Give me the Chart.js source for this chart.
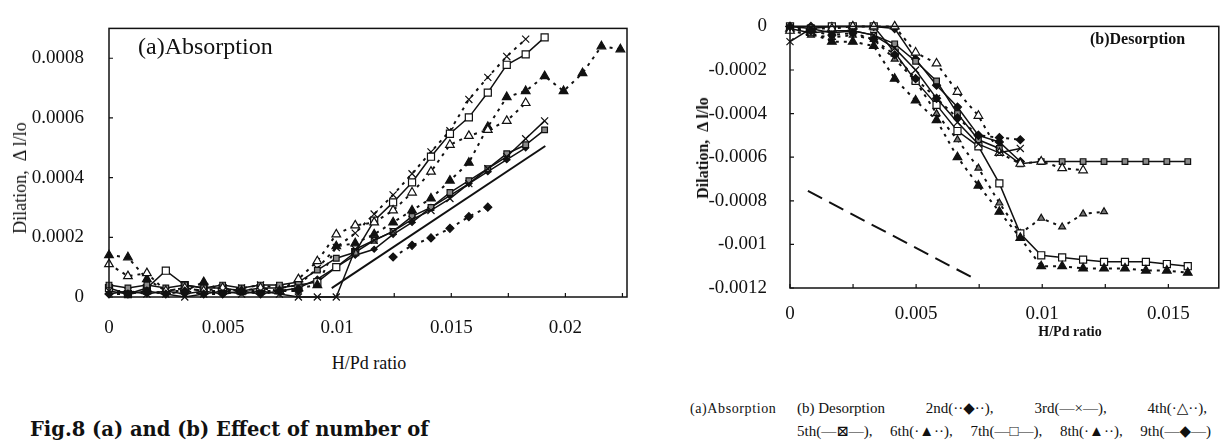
<!DOCTYPE html>
<html>
<head>
<meta charset="utf-8">
<script src="https://cdn.jsdelivr.net/npm/chart.js@4.4.1/dist/chart.umd.min.js"></script>
<style>
  body { margin: 0; background: #fff; }
  #page { position: relative; width: 1225px; height: 443px; overflow: hidden; font-family: "Liberation Serif", "DejaVu Serif", serif; color: #111; }
  canvas { position: absolute; }
  .t { position: absolute; white-space: pre; line-height: 1; }
  .rot { transform: translate(-50%, -50%) rotate(-90deg); }
  .row { position: absolute; display: flex; justify-content: space-between; font-size: 15px; white-space: pre; line-height: 1; }
</style>
</head>
<body>
<div id="page">
  <canvas id="absChart" width="640" height="345" style="left:0;top:0"></canvas>
  <canvas id="desChart" width="565" height="330" style="left:660px;top:0"></canvas>

  <div class="t rot" style="left:20px;top:178px;font-size:18px">Dilation,  Δ l/lo</div>
  <div class="t" style="left:369px;top:363px;font-size:18px;transform:translate(-50%,-50%)">H/Pd ratio</div>
  <div class="t" style="left:138px;top:34px;font-size:24px">(a)Absorption</div>

  <div class="t rot" style="left:703px;top:148px;font-size:16px;font-weight:bold">Dilation,  Δ l/lo</div>
  <div class="t" style="left:1070px;top:332px;font-size:14px;font-weight:bold;transform:translate(-50%,-50%)">H/Pd ratio</div>
  <div class="t" style="left:1090px;top:31px;font-size:16px;font-weight:bold">(b)Desorption</div>

  <div class="t" style="left:690px;top:402px;font-size:14px;letter-spacing:0.6px">(a)Absorption</div>
  <div class="row" style="left:797px;top:401px;width:410px">
    <span>(b) Desorption</span><span>2nd(··◆··),</span><span>3rd(—×—),</span><span>4th(·△··),</span>
  </div>
  <div class="row" style="left:797px;top:424px;width:414px">
    <span>5th(—⊠—),</span><span>6th(·▲··),</span><span>7th(—□—),</span><span>8th(·▲··),</span><span>9th(—◆—)</span>
  </div>
  <div class="t" style="left:30px;top:420px;font-size:19.5px;font-weight:bold;font-family:'DejaVu Serif',serif">Fig.8 (a) and (b) Effect of number of</div>
</div>

<script>
// H/Pd ratio steps used by both runs
const ratioSteps = [0, 0.00083, 0.00166, 0.00249, 0.00332, 0.00415, 0.00498, 0.00581, 0.00664, 0.00747,
  0.0083, 0.00913, 0.00996, 0.01079, 0.01162, 0.01245, 0.01328, 0.01411, 0.01494, 0.01577,
  0.0166, 0.01743, 0.01826, 0.01909, 0.01992, 0.02075, 0.02158, 0.02241];

// (a) absorption dilation
const abs2nd = [0.00001, 0.00001, 0.00002, 0.00001, 0.00002, 0.00001, 0.00001, 0.00002, 0.00001, 0.00002, 0.00002,
  null, null, null, null, 0.000134, 0.000173, 0.000198, 0.00023, 0.000269, 0.000301];
const abs3rd = [0.00002, 0.00001, 0.00002, 0.00001, 0, 0.00001, 0.00002, 0.00001, 0.00002, 0.00001, 0, 0, 0,
  0.00016, 0.00019, 0.00022, 0.00026, 0.00029, 0.00033, 0.00038, 0.00043, 0.00047, 0.00053, 0.00059];
const abs4th = [0.00011, 0.00007, 0.00008, 0.00002, 0.00003, 0.00002, 0.00003, 0.00002, 0.00003, 0.00002, 0.00006,
  0.00012, 0.00021, 0.00024, 0.00025, 0.00029, 0.00035, 0.00042, 0.00051, 0.00054, 0.00056, 0.00059, 0.00065];
const abs5th = [0.00004, 0.00003, 0.00004, 0.00003, 0.00004, 0.00003, 0.00004, 0.00003, 0.00004, 0.00004, 0.00005,
  0.00009, 0.00013, 0.00015, 0.00019, 0.00022, 0.00027, 0.0003, 0.00035, 0.00039, 0.00043, 0.00048, 0.00051, 0.00056];
const abs6th = [0.00014, 0.000133, 0.00006, 0.00002, 0.00002, 0.00005, 0.00002, 0.00002, 0.00002, 0.00002, 0.00003,
  0.00004, 0.00017, 0.00018, 0.00021, 0.00025, 0.00029, 0.00033, 0.00039, 0.00045, 0.00057, 0.00067, 0.00069,
  0.00074, 0.00069, 0.00075, 0.00084, 0.00083];
const abs7th = [0.00003, 0.00001, 0.00003, 0.000088, 0.00004, 0.00003, 0.00003, 0.00002, 0.00003, 0.00003, 0.00004,
  0.00005, 0.0001, 0.00015, 0.000256, 0.000317, 0.000384, 0.00047, 0.000547, 0.000602, 0.000685, 0.000778,
  0.000813, 0.00087];
const abs8th = [0.00002, 0.00002, 0.00001, 0.00002, 0.00003, 0.00002, 0.00002, 0.00003, 0.00004, 0.00003, 0.00004,
  0.000096, 0.000166, 0.000214, 0.000278, 0.000342, 0.000413, 0.000486, 0.000557, 0.000662, 0.000736, 0.000806,
  0.000864];
const abs9th = [0.00001, 0.00002, 0.00001, 0.00002, 0.00001, 0.00002, 0.00001, 0.00002, 0.00001, 0.00002, 0.00003,
  0.00006, 0.0001, 0.00014, 0.00016, 0.00021, 0.00025, 0.0003, 0.00034, 0.00038, 0.00042, 0.00046, 0.0005];
const absLineX = [0.00976, 0.01912];
const absLineY = [0.00003, 0.000506];

// (b) desorption dilation
const des2nd = [0, -0.00002, -0.00004, -0.00003, -0.00006, -0.00013, -0.00024, -0.00033, -0.00042, -0.0005, -0.00051, -0.00052];
const des3rd = [-0.00007, -0.00001, -0.00003, -0.00002, -0.00004, -0.0001, -0.0002, -0.00033, -0.00044, -0.00054, -0.00058, -0.00056];
const des4th = [-0.00002, -0.00001, -0.00001, 0, 0, 0, -0.00012, -0.00017, -0.0003, -0.00041, -0.00058, -0.00063,
  -0.00062, -0.00065, -0.00066];
const des5th = [-0.00001, -0.00003, -0.00002, -0.00002, -0.00004, -0.00008, -0.00016, -0.00025, -0.0004, -0.00052,
  -0.00056, -0.00063, -0.00062, -0.00062, -0.00062, -0.00062, -0.00062, -0.00062, -0.00062, -0.00062];
const des6th = [-0.00001, -0.00003, -0.00007, -0.00007, -0.00009, -0.00024, -0.00034, -0.00043, -0.0006, -0.00073,
  -0.00085, -0.00097, -0.0011, -0.0011, -0.00111, -0.00111, -0.00111, -0.00112, -0.00112, -0.00113];
const des7th = [0, -0.00001, 0, 0, 0, -0.00012, -0.00025, -0.00036, -0.00048, -0.00055, -0.00072, -0.00095,
  -0.00105, -0.00106, -0.00107, -0.00108, -0.00108, -0.00108, -0.00109, -0.0011];
const des8th = [-0.00002, -0.00004, -0.00005, -0.00004, -0.00006, -0.00015, -0.00025, -0.0004, -0.00052, -0.00065,
  -0.00081, -0.00095, -0.00088, -0.00092, -0.00086, -0.00085];
const des9th = [0, 0, 0, 0, 0, -0.00001, -0.00015, -0.00027, -0.00037, -0.0005, -0.00053, -0.00062];
const desLineX = [0.00071, 0.00736];
const desLineY = [-0.000755, -0.00116];

const ink = "#111";
const dotted = [3, 5];

function pts(xs, ys) {
  return ys.map((y, i) => ({ x: xs[i], y: y }));
}

function series(ys, marker, fill, dash, size) {
  return {
    data: pts(ratioSteps, ys),
    borderColor: ink,
    borderWidth: dash ? 2 : 1.5,
    borderDash: dash || [],
    pointStyle: marker,
    pointRadius: size || 4,
    pointBackgroundColor: fill,
    pointBorderColor: ink,
    pointBorderWidth: 1.2,
    clip: 8
  };
}

function refLine(xs, ys, dash) {
  return {
    data: pts(xs, ys),
    borderColor: ink,
    borderWidth: 2,
    borderDash: dash || [],
    pointRadius: 0,
    clip: 8
  };
}

// box round the plot and tick marks pointing inward
const frame = {
  id: "frame",
  afterDraw(chart) {
    const { ctx, chartArea: a, scales } = chart;
    ctx.save();
    ctx.strokeStyle = ink;
    ctx.lineWidth = 1.5;
    ctx.strokeRect(a.left, a.top, a.right - a.left, a.bottom - a.top);
    ctx.lineWidth = 1.2;
    ctx.beginPath();
    scales.x.ticks.forEach((t) => {
      const px = scales.x.getPixelForValue(t.value);
      ctx.moveTo(px, a.bottom);
      ctx.lineTo(px, a.bottom - 4);
    });
    scales.y.ticks.forEach((t) => {
      const py = scales.y.getPixelForValue(t.value);
      ctx.moveTo(a.left, py);
      ctx.lineTo(a.left + 4, py);
    });
    ctx.stroke();
    ctx.restore();
  }
};

function label(v) {
  return String(Number(v.toFixed(4)));
}

function makeChart(id, datasets, o) {
  return new Chart(document.getElementById(id), {
    type: "line",
    data: { datasets: datasets },
    plugins: [frame],
    options: {
      responsive: false,
      animation: false,
      layout: { padding: { left: 0, top: o.top, right: o.right, bottom: 0 } },
      plugins: { legend: { display: false }, tooltip: { enabled: false } },
      scales: {
        x: {
          type: "linear",
          min: o.xMin, max: o.xMax,
          grid: { display: false },
          border: { display: false },
          afterFit: (s) => { s.height = o.xHeight; },
          ticks: {
            stepSize: 0.0025,
            includeBounds: false,
            autoSkip: false,
            maxRotation: 0,
            padding: o.xPad,
            color: ink,
            font: { family: "Liberation Serif", size: 19 },
            callback: (v) => {
              const k = v / 0.005;
              return Math.abs(k - Math.round(k)) < 1e-6 ? label(v) : "";
            }
          }
        },
        y: {
          min: o.yMin, max: o.yMax,
          grid: { display: false },
          border: { display: false },
          afterFit: (s) => { s.width = o.yWidth; },
          ticks: {
            stepSize: 0.0002,
            includeBounds: false,
            padding: o.yPad,
            color: ink,
            font: { family: "Liberation Serif", size: 19 },
            callback: (v) => label(v)
          }
        }
      }
    }
  });
}

makeChart("absChart", [
  refLine(absLineX, absLineY),
  series(abs2nd, "rectRot", ink, dotted, 4),
  series(abs3rd, "crossRot", ink, null, 5),
  series(abs4th, "triangle", "#fff", dotted, 5),
  series(abs5th, "rect", "#8a8a8a", null, 4),
  series(abs6th, "triangle", ink, dotted, 5),
  series(abs7th, "rect", "#fff", null, 5),
  series(abs8th, "crossRot", ink, dotted, 5),
  series(abs9th, "rectRot", ink, null, 3)
], {
  top: 14, right: 13, xHeight: 48, yWidth: 109, xPad: 12, yPad: 17,
  xMin: 0, xMax: 0.0227, yMin: 0, yMax: 0.0009
});

makeChart("desChart", [
  refLine(desLineX, desLineY, [16, 8]),
  series(des2nd, "rectRot", ink, dotted, 4),
  series(des3rd, "crossRot", ink, null, 5),
  series(des4th, "triangle", "#fff", dotted, 5),
  series(des5th, "rect", "#8a8a8a", null, 4),
  series(des6th, "triangle", ink, dotted, 5),
  series(des7th, "rect", "#fff", null, 5),
  series(des8th, "triangle", "#777", dotted, 4),
  series(des9th, "rectRot", ink, null, 4)
], {
  top: 13, right: 3, xHeight: 42, yWidth: 130, xPad: 7, yPad: 15,
  xMin: 0, xMax: 0.017, yMin: -0.0012, yMax: 0
});
</script>
</body>
</html>
